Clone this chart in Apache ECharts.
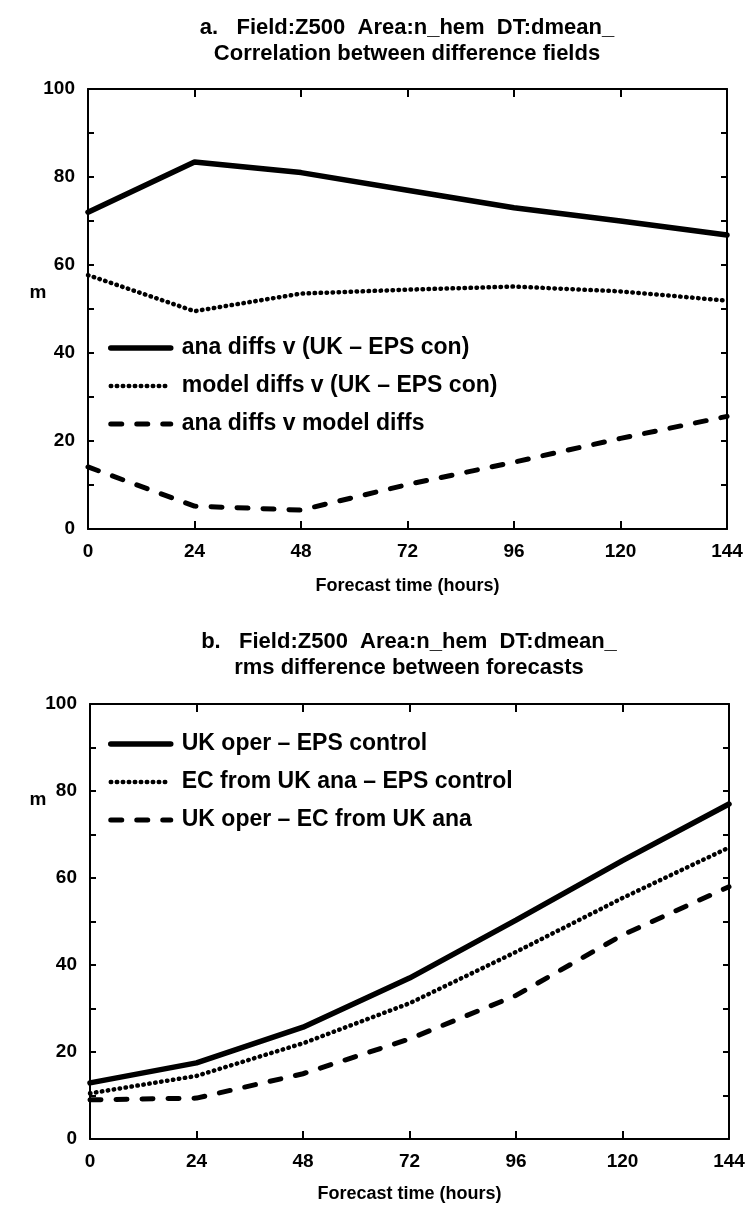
<!DOCTYPE html>
<html>
<head>
<meta charset="utf-8">
<script src="https://cdn.jsdelivr.net/npm/echarts@6/dist/echarts.min.js"></script>
<style>
  html, body { margin: 0; padding: 0; background: #fff; }
  #chart { width: 748px; height: 1213px; }
</style>
</head>
<body>
<div id="chart"></div>
<script>
// Forecast lead times (hours)
const hours = [0, 24, 48, 72, 96, 120, 144];

// Panel a: correlation between difference fields
const titleA = ['a.   Field:Z500  Area:n_hem  DT:dmean_', 'Correlation between difference fields'];
const namesA = ['ana diffs v (UK \u2013 EPS con)', 'model diffs v (UK \u2013 EPS con)', 'ana diffs v model diffs'];
const anaVsUkEps = [72.0, 83.4, 81.0, 77.0, 73.0, 70.0, 66.8];
const modelVsUkEps = [57.7, 49.5, 53.5, 54.4, 55.1, 54.0, 51.9];
const anaVsModel = [14.1, 5.2, 4.3, 10.1, 15.2, 20.6, 25.6];

// Panel b: rms difference between forecasts
const titleB = ['b.   Field:Z500  Area:n_hem  DT:dmean_', 'rms difference between forecasts'];
const namesB = ['UK oper \u2013 EPS control', 'EC from UK ana \u2013 EPS control', 'UK oper \u2013 EC from UK ana'];
const ukOperVsEps = [12.9, 17.5, 25.7, 37.0, 50.3, 64.0, 77.0];
const ecUkAnaVsEps = [10.5, 14.5, 22.0, 31.2, 43.0, 55.4, 67.0];
const ukOperVsEcUkAna = [9.0, 9.4, 15.0, 23.0, 33.0, 46.9, 58.0];

// Axis annotation
const xName = 'Forecast time (hours)';
const yName = 'm';
const yLabelStep = 20;

const FONT = '"Liberation Sans", Arial, sans-serif';
const WEIGHT = 'bold';

const pairs = vals => hours.map((h, i) => [h, vals[i]]);

const styles = [
  { width: 5.5, type: 'solid', cap: 'round' },
  { width: 4.5, type: [0.5, 5.5], cap: 'round' },
  { width: 5, type: [11, 15], cap: 'round' }
];

function panelAxes(gridIndex) {
  const common = {
    gridIndex: gridIndex,
    axisLine: { show: true, onZero: false, lineStyle: { color: '#000', width: 2 } },
    splitLine: { show: false }
  };
  const tick = len => ({ show: true, inside: true, length: len, lineStyle: { color: '#000', width: 2 } });
  const xAxes = [
    Object.assign({}, common, {
      type: 'value', position: 'bottom', min: 0, max: 144, interval: 24,
      axisTick: tick(8),
      axisLabel: { show: true, margin: 13, color: '#000', fontFamily: FONT, fontWeight: WEIGHT, fontSize: 19 },
      name: xName, nameLocation: 'middle', nameGap: gridIndex === 0 ? 48 : 46,
      nameTextStyle: { color: '#000', fontFamily: FONT, fontWeight: WEIGHT, fontSize: 18 }
    }),
    Object.assign({}, common, {
      type: 'value', position: 'top', min: 0, max: 144, interval: 24,
      axisTick: tick(8),
      axisLabel: { show: false }
    })
  ];
  const yAxes = [
    Object.assign({}, common, {
      type: 'value', position: 'left', min: 0, max: 100, interval: 10,
      axisTick: tick(6),
      axisLabel: {
        show: true, margin: 13, color: '#000', fontFamily: FONT, fontWeight: WEIGHT, fontSize: 19,
        formatter: v => (v % yLabelStep === 0 ? String(v) : '')
      }
    }),
    Object.assign({}, common, {
      type: 'value', position: 'right', min: 0, max: 100, interval: 10,
      axisTick: tick(6),
      axisLabel: { show: false }
    })
  ];
  return { xAxes, yAxes };
}

const axA = panelAxes(0);
const axB = panelAxes(1);

function lineSeries(name, vals, styleIdx, panel) {
  return {
    type: 'line',
    name: name,
    xAxisIndex: panel * 2,
    yAxisIndex: panel * 2,
    data: pairs(vals),
    showSymbol: false,
    symbol: 'none',
    silent: true,
    animation: false,
    color: '#000',
    itemStyle: { color: '#000' },
    lineStyle: Object.assign({ color: '#000' }, styles[styleIdx])
  };
}

function legendFor(names, top) {
  return {
    data: names,
    orient: 'vertical',
    left: 108,
    top: top,
    padding: 0,
    itemWidth: 60,
    itemHeight: 14,
    itemGap: 10,
    selectedMode: false,
    itemStyle: { opacity: 0 },
    lineStyle: { width: 'inherit', type: 'inherit' },
    textStyle: { color: '#000', fontFamily: FONT, fontWeight: WEIGHT, fontSize: 23, lineHeight: 28, padding: [0, 0, 0, 6] }
  };
}

function yNameText(x, y) {
  return {
    type: 'text', x: x, y: y, silent: true,
    style: { text: yName, fill: '#000', font: 'bold 19px "Liberation Sans", Arial, sans-serif', align: 'center', verticalAlign: 'middle' }
  };
}

const titleStyle = { color: '#000', fontFamily: FONT, fontSize: 22, fontWeight: WEIGHT, lineHeight: 26 };

const option = {
  backgroundColor: '#fff',
  animation: false,
  title: [
    { text: titleA.join('\n'), left: 407, top: 15, textAlign: 'center', padding: 0, textStyle: titleStyle },
    { text: titleB.join('\n'), left: 409, top: 629, textAlign: 'center', padding: 0, textStyle: titleStyle }
  ],
  legend: [legendFor(namesA, 334), legendFor(namesB, 730)],
  grid: [
    { left: 88, top: 89, width: 639, height: 440 },
    { left: 90, top: 704, width: 639, height: 435 }
  ],
  xAxis: axA.xAxes.concat(axB.xAxes),
  yAxis: axA.yAxes.concat(axB.yAxes),
  graphic: [yNameText(38, 293), yNameText(38, 800)],
  series: [
    lineSeries(namesA[0], anaVsUkEps, 0, 0),
    lineSeries(namesA[1], modelVsUkEps, 1, 0),
    lineSeries(namesA[2], anaVsModel, 2, 0),
    lineSeries(namesB[0], ukOperVsEps, 0, 1),
    lineSeries(namesB[1], ecUkAnaVsEps, 1, 1),
    lineSeries(namesB[2], ukOperVsEcUkAna, 2, 1)
  ]
};

const chart = echarts.init(document.getElementById('chart'), null, { renderer: 'canvas' });
chart.setOption(option);
</script>
</body>
</html>
